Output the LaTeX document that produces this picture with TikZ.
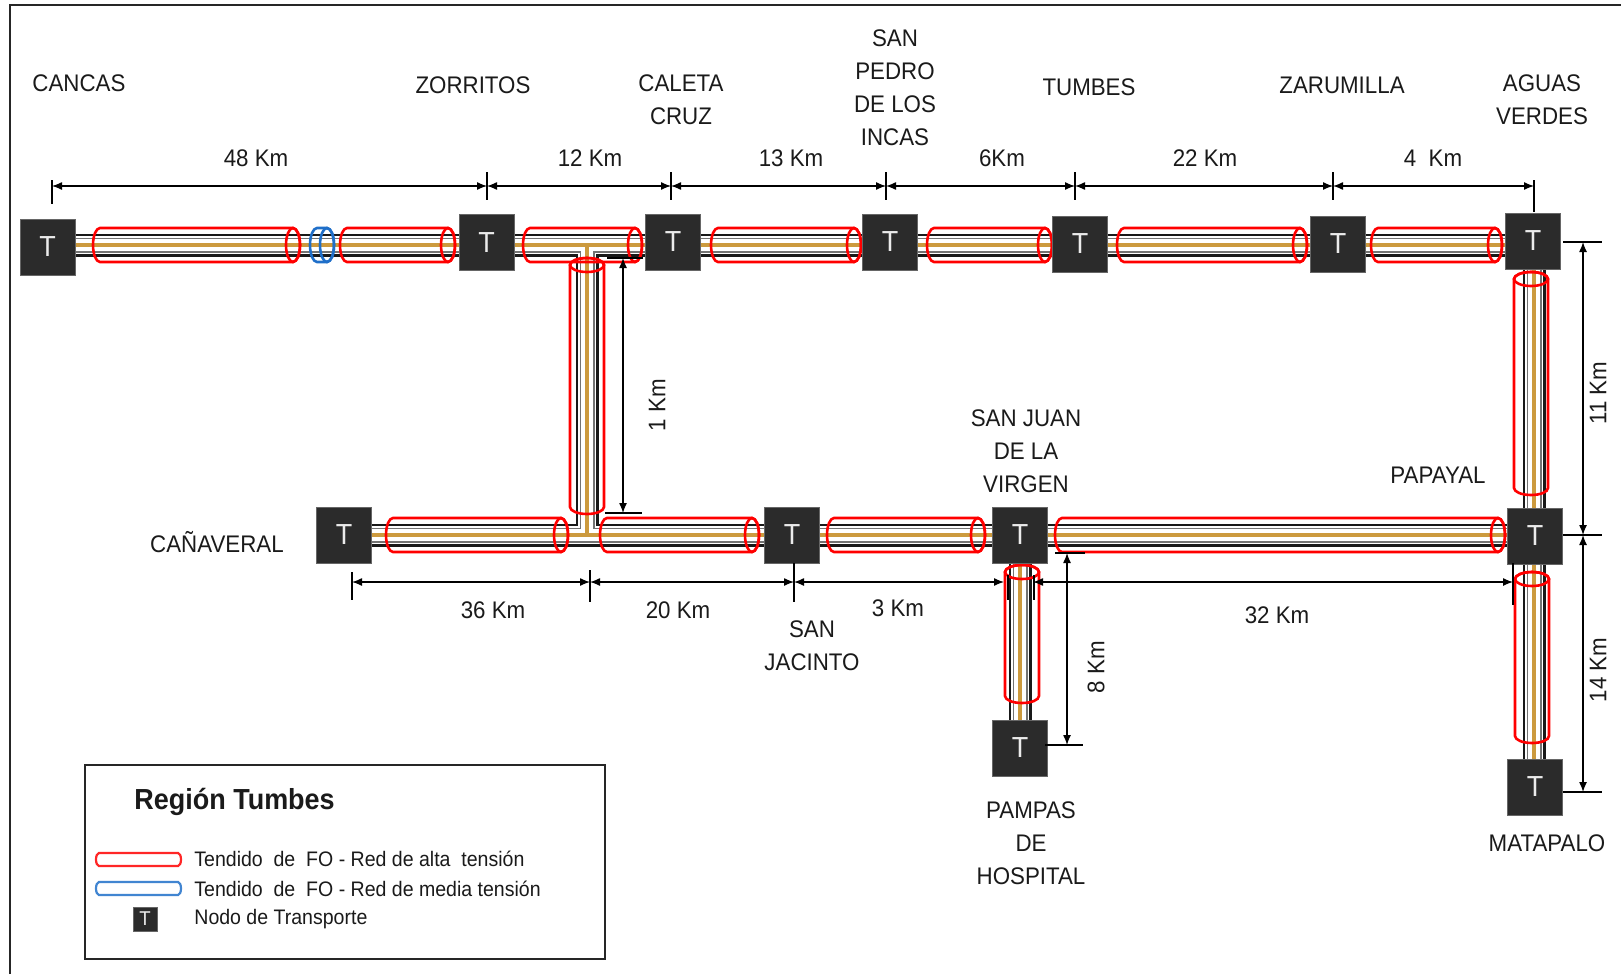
\documentclass[tikz,border=0pt]{standalone}
\usepackage{fontspec}
\setmainfont{Liberation Sans}[FakeStretch=0.93]
\usetikzlibrary{arrows.meta}
\definecolor{nodegray}{HTML}{2B2B2B}
\definecolor{gold}{HTML}{CC9A3E}
\definecolor{cylred}{HTML}{FF0000}
\definecolor{cylblue}{HTML}{1F6FC9}
\definecolor{txt}{HTML}{1A1A1A}
\newcommand\hcyl[4]{% x1 x2 y color
  \draw[cyl,#4] (#1+7,#3-17) -- (#2-7,#3-17) arc[start angle=-90,end angle=90,x radius=7,y radius=17]
    -- (#1+7,#3+17) arc[start angle=90,end angle=270,x radius=7,y radius=17] -- cycle;
  \draw[cyl,#4] (#2-7,#3) ellipse[x radius=7,y radius=17];}
\newcommand\vcyl[4]{% x y1 y2 color
  \draw[cyl,#4] (#1-17,#2+7) -- (#1-17,#3-7) arc[start angle=180,end angle=0,x radius=17,y radius=7]
    -- (#1+17,#2+7) arc[start angle=0,end angle=-180,x radius=17,y radius=7] -- cycle;
  \draw[cyl,#4] (#1,#2+7) ellipse[x radius=17,y radius=7];}
\newcommand\pipeset[1]{%
  \draw[#1] (cA) -- (cG);
  \draw[#1] (587,245) -- (587,535);
  \draw[#1] (cH) -- (cL);
  \draw[#1] (cG) -- (cM);
  \draw[#1] (cJ) -- (cN);}
\begin{document}
\begin{tikzpicture}[x=0.5pt,y=-0.5pt,
  tnode/.style={draw=black!60,line width=0.4pt,fill=nodegray,minimum width=27.5pt,minimum height=28pt,inner sep=0pt,
     text=black!8,font=\fontsize{14.5}{14.5}\selectfont},
  lbl/.style={text=txt,align=center,font=\fontsize{12}{16.5}\selectfont,inner sep=0pt},
  cyl/.style={line width=1.3pt},
  dim/.style={line width=0.65pt,black,{Latex[length=5pt,width=4pt]}-{Latex[length=5pt,width=4pt]}},
  tick/.style={line width=0.65pt,black},
  legtxt/.style={text=txt,anchor=west,font=\fontsize{10.5}{12}\selectfont,inner sep=0pt}]
\useasboundingbox (0,0) rectangle (1621,974);
\fill[white] (0,0) rectangle (1621,974);
% frame
\draw[line width=1pt,black!85] (10,974) -- (10,5) -- (1621,5);
% node centres
\coordinate (cA) at (47.5,245);
\coordinate (cB) at (486.5,245);
\coordinate (cC) at (673,245);
\coordinate (cD) at (890,245);
\coordinate (cE) at (1080,245);
\coordinate (cF) at (1338,245);
\coordinate (cG) at (1534,245);
\coordinate (cH) at (344,535);
\coordinate (cI) at (792,535);
\coordinate (cJ) at (1020,535);
\coordinate (cL) at (1534,535);
\coordinate (cM) at (1534,787);
\coordinate (cN) at (1020,748);
% pipes
\pipeset{line width=11.5pt,black!90}
\pipeset{line width=9.3pt,white}
\pipeset{line width=7.5pt,black!55}
\pipeset{line width=6.2pt,white}
\pipeset{line width=1.6pt,gold}
% cylinders row 1
\hcyl{93}{300}{245}{cylred}
\hcyl{310}{334}{245}{cylblue}
\hcyl{340}{455}{245}{cylred}
\hcyl{523}{642}{245}{cylred}
\hcyl{711}{861}{245}{cylred}
\hcyl{927}{1052}{245}{cylred}
\hcyl{1117}{1307}{245}{cylred}
\hcyl{1371}{1502}{245}{cylred}
% cylinders row 2
\hcyl{386}{568}{535}{cylred}
\hcyl{600}{759}{535}{cylred}
\hcyl{827}{985}{535}{cylred}
\hcyl{1055}{1505}{535}{cylred}
% vertical cylinders
\vcyl{587}{258}{514}{cylred}
\vcyl{1531}{272}{495}{cylred}
\vcyl{1532}{572}{743}{cylred}
\vcyl{1022}{565}{703}{cylred}
% transport nodes
\node[tnode] (cancas) at (47.5,247) {T};
\node[tnode] (zorritos) at (486.5,242.5) {T};
\node[tnode] (caleta) at (673,242) {T};
\node[tnode] (sanpedro) at (890,242) {T};
\node[tnode] (tumbes) at (1080,244) {T};
\node[tnode] (zarumilla) at (1338,244) {T};
\node[tnode] (aguas) at (1533,241) {T};
\node[tnode] (canaveral) at (344,535) {T};
\node[tnode] (sanjacinto) at (792,535) {T};
\node[tnode] (sanjuan) at (1020,535) {T};
\node[tnode] (papayal) at (1535,536) {T};
\node[tnode] (matapalo) at (1535,787) {T};
\node[tnode] (pampas) at (1020,748) {T};
% city labels
\node[lbl] (lcancas) at (79,83) {CANCAS};
\node[lbl] (lzorritos) at (473,85) {ZORRITOS};
\node[lbl] (lcaleta) at (681,99.5) {CALETA\\CRUZ};
\node[lbl] (lsanpedro) at (895,88) {SAN\\PEDRO\\DE LOS\\INCAS};
\node[lbl] (ltumbes) at (1089,87) {TUMBES};
\node[lbl] (lzarumilla) at (1342,85) {ZARUMILLA};
\node[lbl] (laguas) at (1542,99.5) {AGUAS\\VERDES};
\node[lbl] (lcanaveral) at (217,542) {CAÑAVERAL};
\node[lbl] (lsanjacinto) at (812,646) {SAN\\JACINTO};
\node[lbl] (lsanjuan) at (1026,451) {SAN JUAN\\DE LA\\VIRGEN};
\node[lbl] (lpapayal) at (1438,475) {PAPAYAL};
\node[lbl] (lpampas) at (1031,843.5) {PAMPAS\\DE\\HOSPITAL};
\node[lbl] (lmatapalo) at (1547,843) {MATAPALO};
% top dimension line
\coordinate (t1) at (52,186);
\coordinate (t2) at (487,186);
\coordinate (t3) at (671,186);
\coordinate (t4) at (886,186);
\coordinate (t5) at (1075,186);
\coordinate (t6) at (1333,186);
\coordinate (t7) at (1534,186);
\draw[dim] (t1) -- (t2);
\draw[dim] (t2) -- (t3);
\draw[dim] (t3) -- (t4);
\draw[dim] (t4) -- (t5);
\draw[dim] (t5) -- (t6);
\draw[dim] (t6) -- (t7);
\draw[tick] (52,180) -- (52,204);
\foreach \xx in {487,671,886,1075,1333} \draw[tick] (\xx,172) -- (\xx,200);
\draw[tick] (1534,180) -- (1534,212);
\node[lbl] (d48) at (256,158) {48 Km};
\node[lbl] (d12) at (590,158) {12 Km};
\node[lbl] (d13) at (791,158) {13 Km};
\node[lbl] (d6) at (1002,158) {6Km};
\node[lbl] (d22) at (1205,158) {22 Km};
\node[lbl] (d4) at (1433,158) {4\ \ Km};
% bottom dimension line
\coordinate (b1) at (352,582);
\coordinate (b2) at (590,582);
\coordinate (b3) at (794,582);
\coordinate (b4) at (1004,582);
\coordinate (b5) at (1033,582);
\coordinate (b6) at (1513,582);
\draw[dim] (b1) -- (b2);
\draw[dim] (b2) -- (b3);
\draw[dim] (b3) -- (b4);
\draw[dim] (b5) -- (b6);
\draw[tick] (352,572) -- (352,600);
\draw[tick] (590,570) -- (590,602);
\draw[tick] (794,563) -- (794,602);
\draw[tick] (1008,575) -- (1008,600);
\draw[tick] (1034,575) -- (1034,600);
\draw[tick] (1513,563) -- (1513,605);
\node[lbl] (d36) at (493,610) {36 Km};
\node[lbl] (d20) at (678,610) {20 Km};
\node[lbl] (d3) at (898,608) {3 Km};
\node[lbl] (d32) at (1277,615) {32 Km};
% 1 Km
\coordinate (v1a) at (623,258);
\coordinate (v1b) at (623,513);
\draw[dim] (v1a) -- (v1b);
\draw[tick] (607,258) -- (643,258);
\draw[tick] (605,513) -- (642,513);
\node[lbl,rotate=90] (d1) at (657,405) {1 Km};
% 11 and 14 Km
\coordinate (r1) at (1583,242);
\coordinate (r2) at (1583,535);
\coordinate (r3) at (1583,792);
\draw[dim] (r1) -- (r2);
\draw[dim] (r2) -- (r3);
\foreach \yy in {242,535,792} \draw[tick] (1563,\yy) -- (1602,\yy);
\node[lbl,rotate=90] (d11) at (1598,393) {11 Km};
\node[lbl,rotate=90] (d14) at (1598,670) {14 Km};
% 8 Km
\coordinate (e1) at (1067,553);
\coordinate (e2) at (1067,745);
\draw[dim] (e1) -- (e2);
\draw[tick] (1055,553) -- (1085,553);
\draw[tick] (1045,745) -- (1083,745);
\node[lbl,rotate=90] (d8) at (1096,667) {8 Km};
% legend
\draw[line width=0.8pt,black!85] (85,765) rectangle (605,959);
\node[text=txt,anchor=west,inner sep=0pt,font=\bfseries\fontsize{14.5}{15}\selectfont] (ltitle) at (134,802) {Región Tumbes};
\draw[line width=1.1pt,cylred!85] (99,853) -- (178,853) arc[start angle=-90,end angle=90,x radius=3,y radius=6.5] -- (99,866) arc[start angle=90,end angle=270,x radius=3,y radius=6.5] -- cycle;
\draw[line width=1.1pt,cylblue!85] (99,882) -- (178,882) arc[start angle=-90,end angle=90,x radius=3,y radius=6.5] -- (99,895) arc[start angle=90,end angle=270,x radius=3,y radius=6.5] -- cycle;
\node[tnode,minimum width=12pt,minimum height=12pt,font=\fontsize{10}{10}\selectfont] (legT) at (145,919) {T};
\node[legtxt] (leg1) at (194,859) {Tendido\ \ de\ \ FO - Red de alta\ \ tensión};
\node[legtxt] (leg2) at (194,889) {Tendido\ \ de\ \ FO - Red de media tensión};
\node[legtxt] (leg3) at (194,919) {Nodo de Transporte};
\end{tikzpicture}
\end{document}
